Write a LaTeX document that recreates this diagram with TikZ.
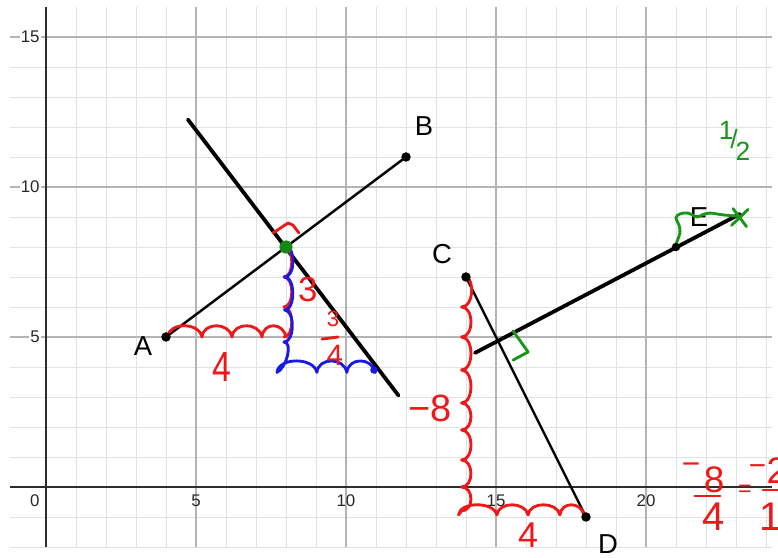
\documentclass[tikz,border=0pt]{standalone}
\usepackage{fontspec}
\setmainfont{Liberation Sans}
\definecolor{redink}{RGB}{238,24,24}
\definecolor{blueink}{RGB}{26,26,232}
\definecolor{greenink}{RGB}{24,150,24}
\definecolor{ptgreen}{RGB}{22,135,22}
\definecolor{minorgrid}{RGB}{226,226,226}
\definecolor{majorgrid}{RGB}{180,180,180}
\definecolor{axiscol}{RGB}{45,45,45}
\definecolor{labcol}{RGB}{40,40,40}
\begin{document}
\begin{tikzpicture}[x=1cm,y=1cm,
  minorline/.style={draw=minorgrid, line width=0.9pt},
  majorline/.style={draw=majorgrid, line width=1.2pt},
  axisline/.style={draw=axiscol, line width=1.7pt},
  ticklab/.style={font=\fontsize{16}{16}\selectfont, text=labcol, inner sep=1pt},
  seg/.style={line width=2.3pt, draw=black, line cap=round},
  bisect/.style={line width=3.6pt, draw=black, line cap=round},
  ptdot/.style={circle, fill=black, inner sep=0pt, minimum size=9pt},
  ptlab/.style={font=\fontsize{26}{26}\selectfont, text=black, inner sep=0pt},
  ink/.style={line width=2.7pt, line cap=round, line join=round},
  redpen/.style={ink, draw=redink},
  bluepen/.style={ink, draw=blueink},
  greenpen/.style={ink, draw=greenink},
  redtxt/.style={text=redink, inner sep=0pt},
  greentxt/.style={text=greenink, inner sep=0pt}
]
\useasboundingbox (-1.5333,-2.3667) rectangle (24.4,16.2333);
\fill[white] (-1.5333,-2.3667) rectangle (24.4,16.2333);

% grid
\foreach \y in {-2,...,15} \draw[minorline] (-1.2,\y) -- (24.2,\y);
\foreach \x in {1,...,24} \draw[minorline] (\x,-2) -- (\x,16);
\foreach \y in {5,10,15} \draw[majorline] (-1.2,\y) -- (24.2,\y);
\foreach \x in {5,10,15,20} \draw[majorline] (\x,-2) -- (\x,16);
\draw[axisline] (-1.2,0) -- (24.2,0);
\draw[axisline] (0,-2) -- (0,16);

% tick labels
\node[ticklab, anchor=east, fill=white] (ty5) at (-0.17,5) {5};
\node[ticklab, anchor=east, fill=white] (ty10) at (-0.17,10) {10};
\node[ticklab, anchor=east, fill=white] (ty15) at (-0.17,15) {15};
\node[ticklab] (tx0) at (-0.37,-0.47) {0};
\node[ticklab] (tx5) at (5,-0.47) {5};
\node[ticklab] (tx10) at (10,-0.47) {10};
\node[ticklab] (tx15) at (15,-0.47) {15};
\node[ticklab] (tx20) at (20,-0.47) {20};

% points
\coordinate (A) at (4,5);
\coordinate (B) at (12,11);
\coordinate (C) at (14,7);
\coordinate (D) at (18,-1);
\coordinate (E) at (21,8);
\coordinate (M) at (8,8);
\coordinate (P) at (10.93,3.9);
\coordinate (L1a) at (4.73,12.25);
\coordinate (L1b) at (11.75,3.05);
\coordinate (L2a) at (14.3,4.47);
\coordinate (L2b) at (23.13,9.1);

% segments and lines
\draw[seg] (A) -- (B);
\draw[seg] (C) -- (D);
\draw[bisect] (L1a) -- (L1b);
\draw[bisect] (L2a) -- (L2b);

% point labels
\node[ptlab] (labA) at (3.23,4.7) {A};
\node[ptlab] (labB) at (12.6,12.03) {B};
\node[ptlab] (labC) at (13.2,7.77) {C};
\node[ptlab] (labD) at (18.73,-1.9) {D};
\node[ptlab] (labE) at (21.77,9.0) {E};

% red: run 4 under AB and rise 3
\draw[redpen] (4.05,5.0) foreach \a/\b in {4.05/5.2,5.2/6.2,6.2/7.2,7.2/8} { .. controls (\a+0.05,5.5) and (\b-0.1,5.5) .. (\b,5.0) };
\draw[redpen] (7.93,5.0) foreach \a/\b in {5/6,6/7,7/8} { .. controls (8.28,\a) and (8.28,\b) .. (7.93,\b) };
% red right-angle mark at midpoint
\draw[redpen] (7.57,8.47) -- (8.07,8.8) -- (8.23,8.73) -- (8.43,8.47);

% blue: down and across to (11,4)
\draw[bluepen] (8,8) .. controls (8.32,8) and (8.32,7) .. (7.95,7)
  .. controls (8.32,7) and (8.32,5.9) .. (7.95,5.9)
  .. controls (8.3,5.9) and (8.3,4.83) .. (7.93,4.83)
  .. controls (8.25,4.83) and (8.0,3.95) .. (7.7,3.82)
  foreach \a/\b in {7.7/9.03,9.03/10.03,10.03/10.97} { .. controls (\a+0.05,4.33) and (\b-0.1,4.33) .. (\b,3.82) };

% red: -8 and 4 for CD
\draw[redpen] (C) .. controls (14.3,6.9) and (14.25,6.0) .. (13.85,6.0)
  foreach \a/\b in {6/5,5/3.9,3.9/2.8,2.8/1.9,1.9/0.9,0.9/0,0/-0.8} { .. controls (14.27,\a) and (14.27,\b) .. (13.85,\b) }
  -- (13.75,-0.93)
  foreach \a/\b in {13.75/15.03,15.03/16.07,16.07/17.13,17.13/17.93} { .. controls (\a+0.05,-0.48) and (\b-0.1,-0.48) .. (\b,-0.93) };

% green right-angle mark and slope arrow near E
\draw[greenpen] (15.57,5.2) -- (16.07,4.5) -- (15.57,4.23);
\draw[greenpen] plot[smooth, tension=0.6] coordinates {(21.0,8.1) (21.13,8.47) (21.1,8.73) (21.0,8.97) (21.13,9.1) (21.4,9.13) (21.7,9.0) (21.87,9.07) (22.13,9.13) (22.57,9.07) (23.03,9.03)};
\draw[greenpen] (22.85,8.72) -- (23.4,9.25);
\draw[greenpen] (22.9,9.28) -- (23.35,8.68);

% red numbers
\node[redtxt, font=\fontsize{40}{40}\selectfont] (t4a) at (5.87,4.0) {\scalebox{0.8}[1]{4}};
\node[redtxt, font=\fontsize{33}{33}\selectfont] (t3) at (8.73,6.57) {3};
\node[redtxt, font=\fontsize{21}{21}\selectfont] (tn3) at (9.57,5.6) {3};
\draw[redpen] (9.2,4.93) -- (9.73,5.0);
\node[redtxt, font=\fontsize{28}{28}\selectfont] (td4) at (9.63,4.4) {4};
\node[redtxt, font=\fontsize{36}{36}\selectfont] (tm8) at (12.8,2.63) {−8};
\node[redtxt, font=\fontsize{34}{34}\selectfont] (t4b) at (16.07,-1.6) {4};

% right side: -8/4 = -2/1
\node[redtxt, font=\fontsize{30}{30}\selectfont] (rmin1) at (21.5,0.6) {−};
\node[redtxt, font=\fontsize{35}{35}\selectfont] (r8) at (22.27,0.25) {8};
\draw[redpen] (21.63,-0.3) -- (22.47,-0.3);
\node[redtxt, font=\fontsize{38}{38}\selectfont] (r4) at (22.27,-1.0) {4};
\node[redtxt, font=\fontsize{22}{22}\selectfont] (req) at (23.3,-0.13) {=};
\node[redtxt, font=\fontsize{28}{28}\selectfont] (rmin2) at (23.72,0.55) {−};
\node[redtxt, font=\fontsize{35}{35}\selectfont] (r2) at (24.36,0.55) {2};
\draw[redpen] (23.9,-0.1) -- (24.45,-0.1);
\node[redtxt, font=\fontsize{38}{38}\selectfont] (r1) at (24.17,-0.98) {1};

% green 1/2
\node[greentxt, font=\fontsize{25}{25}\selectfont] (half) at (22.95,11.55) {\raisebox{0.35em}{1}\kern-0.12em/\kern-0.08em\raisebox{-0.45em}{2}};

% dots
\node[ptdot] (Adot) at (A) {};
\node[ptdot] (Bdot) at (B) {};
\node[ptdot] (Cdot) at (C) {};
\node[ptdot] (Ddot) at (D) {};
\node[ptdot, minimum size=8pt] (Edot) at (E) {};
\node[circle, fill=ptgreen, inner sep=0pt, minimum size=12.5pt] (Mdot) at (M) {};
\node[circle, fill=blueink, inner sep=0pt, minimum size=7pt] (Pdot) at (P) {};
\end{tikzpicture}
\end{document}
